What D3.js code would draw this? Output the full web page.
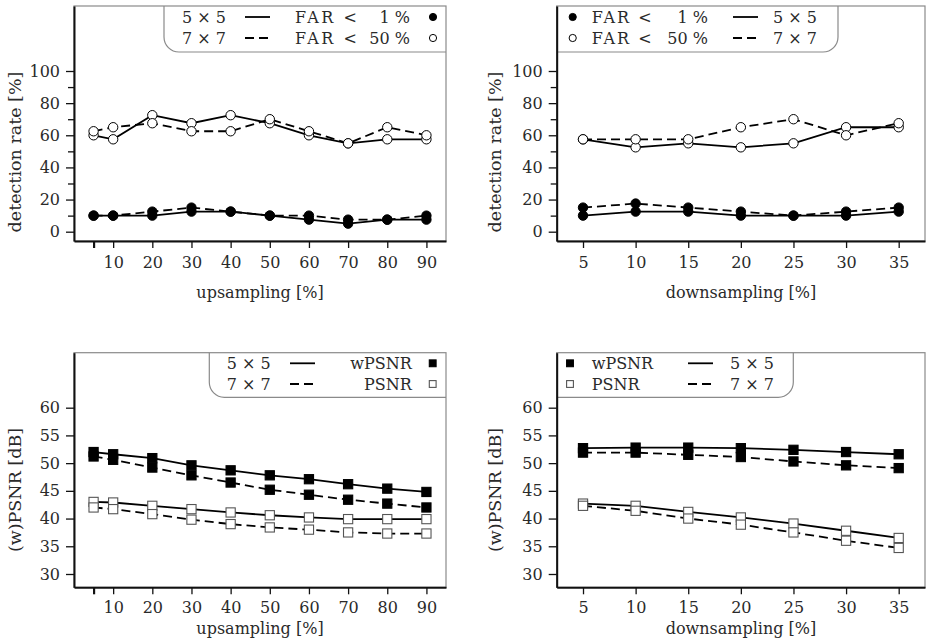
<!DOCTYPE html>
<html>
<head>
<meta charset="utf-8">
<script src="https://cdn.jsdelivr.net/npm/d3@7"></script>
<style>
  body { margin: 0; background: #fff; }
  text { font-family: "DejaVu Serif", serif; fill: #2a2a2a; }
</style>
</head>
<body>
<svg id="chart" width="927" height="642"></svg>
<script>
// x positions
const upX = [5, 10, 20, 30, 40, 50, 60, 70, 80, 90];
const downX = [5, 10, 15, 20, 25, 30, 35];
const upTickLabels = ["", "10", "20", "30", "40", "50", "60", "70", "80", "90"];
const downTickLabels = ["5", "10", "15", "20", "25", "30", "35"];
const detTicks = [0, 20, 40, 60, 80, 100];
const detMinor = [10, 30, 50, 70, 90];
const psnrTicks = [30, 35, 40, 45, 50, 55, 60];

// detection rate, upsampling
const upFar50_5 = [60, 57.5, 72.5, 67.5, 72.5, 67.5, 60, 55, 57.5, 57.5];
const upFar50_7 = [62.5, 65, 67.5, 62.5, 62.5, 70, 62.5, 55, 65, 60];
const upFar1_5 = [10, 10, 10, 12.5, 12.5, 10, 7.5, 5, 7.5, 7.5];
const upFar1_7 = [10, 10, 12.5, 15, 12.5, 10, 10, 7.5, 7.5, 10];

// detection rate, downsampling
const downFar50_5 = [57.5, 52.5, 55, 52.5, 55, 65, 65];
const downFar50_7 = [57.5, 57.5, 57.5, 65, 70, 60, 67.5];
const downFar1_5 = [10, 12.5, 12.5, 10, 10, 10, 12.5];
const downFar1_7 = [15, 17.5, 15, 12.5, 10, 12.5, 15];

// (w)PSNR, upsampling
const upW_5 = [52.0, 51.6, 50.9, 49.6, 48.7, 47.8, 47.1, 46.2, 45.4, 44.8];
const upW_7 = [51.2, 50.6, 49.2, 47.8, 46.5, 45.2, 44.3, 43.4, 42.7, 42.0];
const upP_5 = [43.0, 42.9, 42.3, 41.7, 41.1, 40.6, 40.2, 39.9, 39.9, 39.9];
const upP_7 = [42.0, 41.7, 40.8, 39.8, 39.0, 38.4, 38.0, 37.5, 37.3, 37.3];

// (w)PSNR, downsampling
const downW_5 = [52.7, 52.8, 52.8, 52.7, 52.4, 52.0, 51.6];
const downW_7 = [51.9, 51.9, 51.5, 51.1, 50.3, 49.6, 49.1];
const downP_5 = [42.7, 42.3, 41.2, 40.2, 39.1, 37.8, 36.5];
const downP_7 = [42.3, 41.4, 40.0, 38.9, 37.5, 36.0, 34.7];

const DASH = "9,5";
const svg = d3.select("#chart");

function marker(g, kind, cx, cy, s) {
  if (kind === "dot" || kind === "circle") {
    g.append("circle").attr("cx", cx).attr("cy", cy).attr("r", s)
      .attr("fill", kind === "dot" ? "#000" : "#fff")
      .attr("stroke", "#000").attr("stroke-width", 1);
  } else {
    g.append("rect").attr("x", cx - s).attr("y", cy - s)
      .attr("width", 2 * s).attr("height", 2 * s)
      .attr("fill", kind === "fsq" ? "#000" : "#fff")
      .attr("stroke", kind === "fsq" ? "#000" : "#555").attr("stroke-width", 1.1);
  }
}

function drawPanel(p) {
  const g = svg.append("g");
  const x = d3.scaleLinear().domain(p.xDomain).range([p.left, p.right]);
  const y = d3.scaleLinear().domain(p.yDomain).range([p.bottom, p.top]);

  // grey frame
  g.append("rect")
    .attr("x", p.left).attr("y", p.top)
    .attr("width", p.right - p.left).attr("height", p.bottom - p.top)
    .attr("fill", "none").attr("stroke", "#8a8a8a").attr("stroke-width", 1.2);

  // legend box with one rounded corner
  const lg = p.legend, r = 15;
  let d;
  if (lg.corner === "bl") {
    d = `M${lg.x0},${p.top}V${lg.y1 - r}A${r},${r} 0 0 0 ${lg.x0 + r},${lg.y1}H${p.right}`;
  } else {
    d = `M${p.left},${lg.y1}H${lg.x1 - r}A${r},${r} 0 0 0 ${lg.x1},${lg.y1 - r}V${p.top}`;
  }
  g.append("path").attr("d", d).attr("fill", "none")
    .attr("stroke", "#8a8a8a").attr("stroke-width", 1.2);

  lg.items.forEach(it => {
    lg.rows.forEach((ry, i) => {
      if (it.type === "text") {
        const t = g.append("text").attr("x", it.x).attr("y", ry).attr("dy", "0.35em")
          .attr("text-anchor", it.anchor || "start")
          .attr("font-size", 16).text(it.texts[i]);
        if (it.len) t.attr("textLength", it.len).attr("lengthAdjust", "spacing");
      } else if (it.type === "line") {
        g.append("line").attr("x1", it.x0).attr("x2", it.x1)
          .attr("y1", ry).attr("y2", ry)
          .attr("stroke", "#000").attr("stroke-width", 1.8)
          .attr("stroke-dasharray", i === 1 ? DASH : null);
      } else {
        marker(g, it.kinds[i], it.x, ry, it.size);
      }
    });
  });

  // y axis
  const ya = g.append("g").attr("transform", `translate(${p.left},0)`)
    .call(d3.axisLeft(y).tickValues(p.yTicks).tickSize(8).tickPadding(6).tickSizeOuter(0));
  if (p.yMinor) {
    g.append("g").attr("transform", `translate(${p.left},0)`)
      .call(d3.axisLeft(y).tickValues(p.yMinor).tickSize(6).tickFormat("").tickSizeOuter(0))
      .call(a => a.select(".domain").remove())
      .selectAll("line").attr("stroke", "#111").attr("stroke-width", 1.3);
  }
  ya.attr("font-size", 16);
  ya.select(".domain").attr("stroke", "#111").attr("stroke-width", 2);
  ya.selectAll(".tick line").attr("stroke", "#111").attr("stroke-width", 1.3);

  // x axis
  const xa = g.append("g").attr("transform", `translate(0,${p.bottom})`)
    .call(d3.axisBottom(x).tickValues(p.xs).tickSize(7).tickPadding(p.xPad)
      .tickFormat((v, i) => p.xLabels[i]).tickSizeOuter(0));
  xa.attr("font-size", 16);
  xa.select(".domain").attr("stroke", "#111").attr("stroke-width", 2);
  xa.selectAll(".tick line").attr("stroke", "#111")
    .attr("stroke-width", (v, i) => p.xLabels[i] === "" ? 2.2 : 1.3);

  // axis titles
  g.append("text").attr("x", p.xTitle[0]).attr("y", p.xTitle[1]).attr("dy", "0.35em")
    .attr("text-anchor", "middle").attr("font-size", 16).text(p.xText);
  g.append("text").attr("transform", `translate(${p.yTitle[0]},${p.yTitle[1]}) rotate(-90)`)
    .attr("dy", "0.35em").attr("text-anchor", "middle").attr("font-size", 17.5).text(p.yText);

  // lines
  const line = d3.line().x((v, i) => x(p.xs[i])).y(v => y(v));
  p.series.forEach(s => {
    g.append("path").attr("d", line(s.values)).attr("fill", "none")
      .attr("stroke", "#000").attr("stroke-width", 1.8)
      .attr("stroke-dasharray", s.dashed ? DASH : null);
  });
  // markers
  p.series.forEach(s => {
    s.values.forEach((v, i) => marker(g, s.kind, x(p.xs[i]), y(v), p.mSize));
  });
}

const topY = [-5.79, 140.45];
const botY = [27.6, 69.92];

drawPanel({
  left: 74, right: 446, top: 6, bottom: 241,
  xDomain: [0, 95], yDomain: topY, xs: upX, xLabels: upTickLabels, xPad: 9,
  yTicks: detTicks, yMinor: detMinor, mSize: 4.7,
  xText: "upsampling [%]", xTitle: [260, 292],
  yText: "detection rate [%]", yTitle: [15, 152],
  series: [
    { values: upFar50_5, dashed: false, kind: "circle" },
    { values: upFar50_7, dashed: true, kind: "circle" },
    { values: upFar1_5, dashed: false, kind: "dot" },
    { values: upFar1_7, dashed: true, kind: "dot" }
  ],
  legend: {
    corner: "bl", x0: 164, y1: 52, rows: [17, 38],
    items: [
      { type: "text", x: 182, texts: ["5 × 5", "7 × 7"] },
      { type: "line", x0: 245, x1: 270 },
      { type: "text", x: 295, len: 62, texts: ["FAR <", "FAR <"] },
      { type: "text", x: 410, anchor: "end", texts: ["1 %", "50 %"] },
      { type: "marker", x: 433, size: 3.6, kinds: ["dot", "circle"] }
    ]
  }
});

drawPanel({
  left: 556.7, right: 925, top: 6, bottom: 241,
  xDomain: [2.5, 37.5], yDomain: topY, xs: downX, xLabels: downTickLabels, xPad: 9,
  yTicks: detTicks, yMinor: detMinor, mSize: 4.7,
  xText: "downsampling [%]", xTitle: [741, 292],
  yText: "detection rate [%]", yTitle: [495, 152],
  series: [
    { values: downFar50_5, dashed: false, kind: "circle" },
    { values: downFar50_7, dashed: true, kind: "circle" },
    { values: downFar1_5, dashed: false, kind: "dot" },
    { values: downFar1_7, dashed: true, kind: "dot" }
  ],
  legend: {
    corner: "br", x1: 838, y1: 52, rows: [17, 38],
    items: [
      { type: "marker", x: 572.7, size: 3.6, kinds: ["dot", "circle"] },
      { type: "text", x: 591.7, len: 60, texts: ["FAR <", "FAR <"] },
      { type: "text", x: 708, anchor: "end", texts: ["1 %", "50 %"] },
      { type: "line", x0: 733, x1: 758 },
      { type: "text", x: 773, texts: ["5 × 5", "7 × 7"] }
    ]
  }
});

drawPanel({
  left: 74, right: 446, top: 352.7, bottom: 587.3,
  xDomain: [0, 95], yDomain: botY, xs: upX, xLabels: upTickLabels, xPad: 7,
  yTicks: psnrTicks, mSize: 4.6,
  xText: "upsampling [%]", xTitle: [260, 628.5],
  yText: "(w)PSNR [dB]", yTitle: [15, 490],
  series: [
    { values: upW_5, dashed: false, kind: "fsq" },
    { values: upW_7, dashed: true, kind: "fsq" },
    { values: upP_5, dashed: false, kind: "osq" },
    { values: upP_7, dashed: true, kind: "osq" }
  ],
  legend: {
    corner: "bl", x0: 209.3, y1: 397.3, rows: [363.3, 384],
    items: [
      { type: "text", x: 226.7, texts: ["5 × 5", "7 × 7"] },
      { type: "line", x0: 290, x1: 315 },
      { type: "text", x: 411.7, anchor: "end", texts: ["wPSNR", "PSNR"] },
      { type: "marker", x: 432.7, size: 3.4, kinds: ["fsq", "osq"] }
    ]
  }
});

drawPanel({
  left: 556.7, right: 925, top: 352.7, bottom: 587.3,
  xDomain: [2.5, 37.5], yDomain: botY, xs: downX, xLabels: downTickLabels, xPad: 7,
  yTicks: psnrTicks, mSize: 4.6,
  xText: "downsampling [%]", xTitle: [741, 628.5],
  yText: "(w)PSNR [dB]", yTitle: [495, 490],
  series: [
    { values: downW_5, dashed: false, kind: "fsq" },
    { values: downW_7, dashed: true, kind: "fsq" },
    { values: downP_5, dashed: false, kind: "osq" },
    { values: downP_7, dashed: true, kind: "osq" }
  ],
  legend: {
    corner: "br", x1: 793.3, y1: 397.3, rows: [363.3, 384],
    items: [
      { type: "marker", x: 570, size: 3.4, kinds: ["fsq", "osq"] },
      { type: "text", x: 591.7, texts: ["wPSNR", "PSNR"] },
      { type: "line", x0: 688, x1: 713 },
      { type: "text", x: 730, texts: ["5 × 5", "7 × 7"] }
    ]
  }
});
</script>
</body>
</html>
